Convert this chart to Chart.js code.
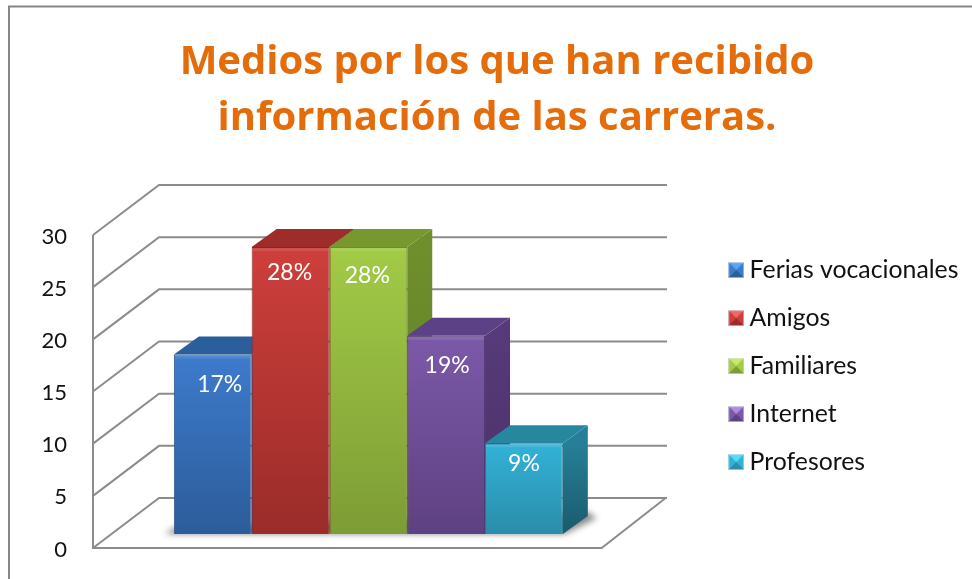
<!DOCTYPE html>
<html><head><meta charset="utf-8">
<style>html,body{margin:0;padding:0;background:#fff;overflow:hidden}#w{width:972px;height:579px}</style>
<script src="https://cdn.jsdelivr.net/npm/chart.js@4"></script>
</head><body><div id="w"><canvas id="c" width="972" height="579"></canvas></div>
<script>
const titleLines = ['Medios por los que han recibido', 'información de las carreras.'];
const seriesNames = ['Ferias vocacionales', 'Amigos', 'Familiares', 'Internet', 'Profesores'];
const seriesValues = [17.2, 27.5, 27.5, 19, 8.7];
const percentLabels = ['17%', '28%', '28%', '19%', '9%'];
const yTicks = [0, 5, 10, 15, 20, 25, 30];
const frontLight = ['#3D7BCC', '#CE3F3B', '#A2CB47', '#7C59A8', '#33B2D8'];
const frontDark = ['#2C5C9A', '#9A2C29', '#7D9C35', '#5E4182', '#2A8DA9'];
const edgeColor = ['#2A5488', '#872725', '#6F8B2E', '#523972', '#247C95'];
const topColor = ['#2B5F9C', '#9C2D2A', '#76982F', '#5D4186', '#26879F'];
const sideLight = ['#2B5F9C', '#8A2826', '#6F8F2C', '#563A79', '#267F98'];
const sideDark = ['#234E80', '#772220', '#5F7A25', '#4A3168', '#1B5A6C'];
const legendLight = ['#5FA5EA', '#EE6A64', '#C8EA66', '#B08BE0', '#55DDF5'];
const labelShift = [[7, 30], [-1, 25], [-1, 28], [1, 30], [0, 20]];

const FONT = 'Lato, Carlito, sans-serif';
const GRID = '#8C8C8C';
const SHIFT = {x: 21, y: -14}, DEPTH = {x: 25, y: -18}, WALL = {x: 66, y: -50};

function legendIcon(i) {
  const s = 16, c = document.createElement('canvas');
  c.width = s; c.height = s;
  const g = c.getContext('2d');
  g.fillStyle = frontDark[i]; g.fillRect(0, 0, s, s);
  g.fillStyle = frontLight[i];
  g.beginPath(); g.moveTo(0, 0); g.lineTo(s / 2, s / 2); g.lineTo(0, s); g.closePath(); g.fill();
  g.beginPath(); g.moveTo(s, 0); g.lineTo(s / 2, s / 2); g.lineTo(s, s); g.closePath(); g.fill();
  g.fillStyle = legendLight[i];
  g.beginPath(); g.moveTo(0, 0); g.lineTo(s, 0); g.lineTo(s / 2, s / 2); g.closePath(); g.fill();
  g.strokeStyle = 'rgba(215,222,235,.7)'; g.lineWidth = 1; g.strokeRect(.5, .5, s - 1, s - 1);
  return c;
}

function trimScale(s, width) {
  s.width = width;
  s.paddingTop = 0;
  s.paddingBottom = 0;
}

const chart3d = {
  id: 'chart3d',
  afterLayout(chart) {
    const lg = chart.legend;
    lg.left = 712; lg.right = 972; lg.width = 260;
    lg.top = 234.5;
  },
  beforeDraw(chart) {
    const {ctx} = chart;
    ctx.save();
    ctx.strokeStyle = '#868686'; ctx.lineWidth = 2;
    ctx.strokeRect(9, 6.5, 975, 590);
    ctx.restore();
  },
  beforeDatasetsDraw(chart) {
    const {ctx, chartArea: a, scales: {y}} = chart;
    ctx.save();
    ctx.strokeStyle = GRID; ctx.lineWidth = 2;
    yTicks.forEach(v => {
      const py = y.getPixelForValue(v);
      ctx.beginPath();
      ctx.moveTo(a.left, py);
      ctx.lineTo(a.left + WALL.x, py + WALL.y);
      ctx.lineTo(a.left + WALL.x + 508, py + WALL.y);
      ctx.stroke();
    });
    ctx.beginPath();
    ctx.moveTo(a.left, y.getPixelForValue(30));
    ctx.lineTo(a.left, a.bottom);
    ctx.lineTo(a.right, a.bottom);
    ctx.lineTo(a.right + WALL.x - 2, a.bottom + WALL.y);
    ctx.stroke();
    ctx.restore();

    ctx.save();
    ctx.translate(SHIFT.x, SHIFT.y);
    const first = chart.getDatasetMeta(0).data[0];
    const last = chart.getDatasetMeta(seriesValues.length - 1).data[0];
    const fl = first.x - first.width / 2, lr = last.x + last.width / 2, b = first.base;
    ctx.save();
    ctx.filter = 'blur(3px)';
    ctx.fillStyle = 'rgba(40,40,40,.55)';
    ctx.beginPath();
    ctx.moveTo(fl - 9, b); ctx.lineTo(lr + 2, b);
    ctx.lineTo(lr + DEPTH.x + 9, b + DEPTH.y + 2); ctx.lineTo(lr + DEPTH.x, b + DEPTH.y - 4);
    ctx.lineTo(fl, b - 6); ctx.closePath(); ctx.fill();
    ctx.restore();

    seriesValues.forEach((_, i) => {
      const meta = chart.getDatasetMeta(i), bar = meta.data[0];
      const l = bar.x - bar.width / 2, r = bar.x + bar.width / 2, t = bar.y, bs = bar.base;
      const sg = ctx.createLinearGradient(0, t, 0, bs);
      sg.addColorStop(0, sideLight[i]); sg.addColorStop(1, sideDark[i]);
      ctx.fillStyle = sg;
      ctx.beginPath();
      ctx.moveTo(r, t); ctx.lineTo(r + DEPTH.x, t + DEPTH.y);
      ctx.lineTo(r + DEPTH.x, bs + DEPTH.y); ctx.lineTo(r, bs); ctx.closePath(); ctx.fill();
      ctx.fillStyle = topColor[i];
      ctx.beginPath();
      ctx.moveTo(l, t); ctx.lineTo(l + DEPTH.x, t + DEPTH.y);
      ctx.lineTo(r + DEPTH.x, t + DEPTH.y); ctx.lineTo(r, t); ctx.closePath(); ctx.fill();
      meta.controller.draw();
      ctx.fillStyle = 'rgba(255,255,255,.10)';
      ctx.fillRect(l + 1, t + 1, bar.width - 2, 3);
      ctx.fillStyle = '#fff';
      ctx.font = '23px ' + FONT;
      ctx.textAlign = 'center'; ctx.textBaseline = 'middle';
      ctx.fillText(percentLabels[i], bar.x + labelShift[i][0], t + labelShift[i][1]);
    });
    ctx.restore();
    return false;
  }
};

new Chart(document.getElementById('c'), {
  type: 'bar',
  data: {
    labels: [''],
    datasets: seriesNames.map((name, i) => ({
      label: name,
      data: [seriesValues[i]],
      backgroundColor(ctx) {
        const y = ctx.chart.scales.y;
        if (!y) return frontLight[i];
        const g = ctx.chart.ctx.createLinearGradient(0, y.getPixelForValue(seriesValues[i]), 0, y.getPixelForValue(0));
        g.addColorStop(0, frontLight[i]); g.addColorStop(1, frontDark[i]);
        return g;
      },
      borderColor: edgeColor[i],
      borderWidth: 1,
      barPercentage: 1,
      categoryPercentage: 0.7647
    }))
  },
  plugins: [chart3d],
  options: {
    responsive: false,
    animation: false,
    layout: {padding: {left: 22, right: 0, top: 0, bottom: 31}},
    scales: {
      x: {display: false, grid: {display: false}, afterFit(s) { s.height = 0; s.paddingLeft = 0; s.paddingRight = 0; }},
      y: {
        min: 0, max: 30,
        afterFit(s) { trimScale(s, 71); },
        afterBuildTicks(s) { s.ticks = yTicks.map(v => ({value: v})); },
        grid: {display: false, drawTicks: false},
        border: {display: false},
        ticks: {padding: 26, color: '#111', labelOffset: 1.5, font: {family: FONT, size: 22}}
      },
      y2: {
        position: 'right', display: true,
        afterFit(s) { trimScale(s, 212); },
        grid: {display: false, drawTicks: false},
        border: {display: false},
        ticks: {display: false}
      }
    },
    plugins: {
      tooltip: {enabled: false},
      title: {
        display: true,
        text: titleLines,
        color: '#E46C0A',
        padding: {top: 35, bottom: 88},
        font: {family: '"Open Sans", sans-serif', size: 40, weight: 'bold', lineHeight: 56 / 40}
      },
      legend: {
        position: 'right',
        align: 'start',
        labels: {
          color: '#111',
          font: {family: FONT, size: 24.8, lineHeight: 1.2},
          padding: 23.2,
          usePointStyle: true,
          pointStyleWidth: 2,
          generateLabels() {
            return seriesNames.map((n, i) => ({
              text: n, pointStyle: legendIcon(i), fontColor: '#111', datasetIndex: i, hidden: false
            }));
          }
        }
      }
    }
  }
});
</script></body></html>
